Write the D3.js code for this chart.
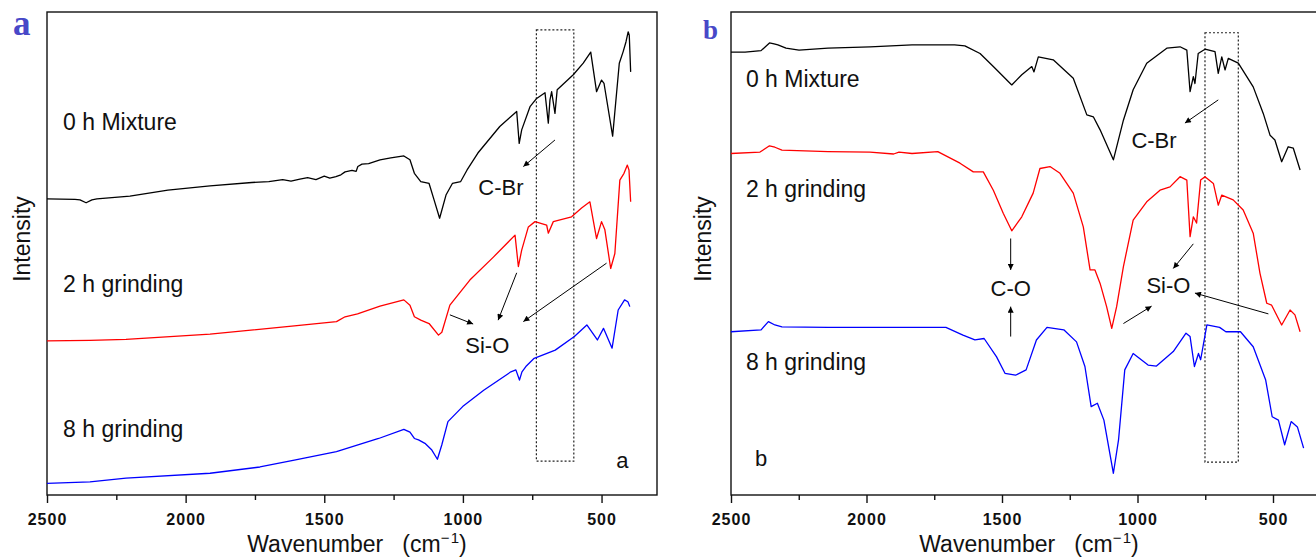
<!DOCTYPE html>
<html>
<head>
<meta charset="utf-8">
<script src="https://cdn.jsdelivr.net/npm/d3@7"></script>
<style>
  body { margin: 0; background: #fff; }
  svg { display: block; }
  text { font-family: "Liberation Sans", Arial, sans-serif; }
</style>
</head>
<body>
<svg id="chart" width="1316" height="558"></svg>
<script>
// FTIR spectra, wavenumber (cm-1) vs intensity (a.u., 0-100)
var xDomain = [2500, 300];
var tickMajor = [2500, 2000, 1500, 1000, 500];
var tickMinor = [2250, 1750, 1250, 750];
var seriesNames = ["0 h Mixture", "2 h grinding", "8 h grinding"];
var seriesColors = ["#000000", "#ff0000", "#0000ff"];

// panel a
var aMixture = [[2500,61.3],[2399,61.2],[2381,61.1],[2359,60.5],[2338,61.1],[2320,61.3],[2201,61.9],[2064,63.1],[1912,64.0],[1761,64.7],[1700,64.9],[1650,65.3],[1620,65.0],[1588,65.4],[1560,65.7],[1530,65.3],[1500,66.0],[1480,65.6],[1458,65.9],[1440,66.3],[1425,66.9],[1400,67.2],[1385,67.0],[1379,68.0],[1364,68.5],[1340,68.6],[1299,69.4],[1260,69.8],[1213,70.2],[1191,69.4],[1175,66.6],[1152,64.9],[1122,64.5],[1104,61.1],[1084,57.3],[1061,62.1],[1038,64.5],[1008,64.9],[985,67.3],[946,70.8],[867,76.3],[806,79.4],[797,72.8],[788,75.6],[758,80.4],[734,82.1],[704,83.3],[699,80.7],[692,77.0],[686,81.8],[680,83.5],[668,79.0],[660,83.9],[602,87.0],[566,89.4],[539,91.7],[518,83.5],[500,85.9],[491,85.2],[460,74.3],[436,89.4],[422,91.8],[412,93.8],[404,95.9],[400,95.2],[395,87.6]];
var aGrind2 = [[2500,31.9],[2345,32.0],[2215,32.2],[1912,33.3],[1608,35.0],[1456,35.9],[1425,36.9],[1380,37.5],[1299,39.1],[1213,40.4],[1191,39.3],[1175,36.9],[1152,36.2],[1122,35.5],[1088,33.1],[1076,33.7],[1047,39.3],[975,44.5],[891,49.2],[812,53.8],[800,47.3],[788,50.7],[764,55.5],[740,56.6],[698,55.9],[692,54.2],[674,56.6],[608,57.6],[572,59.4],[542,60.7],[518,53.1],[500,56.6],[488,54.9],[467,46.9],[452,50.0],[434,65.2],[419,66.6],[407,68.3],[401,67.3],[395,60.7]];
var aGrind8 = [[2500,2.4],[2345,2.7],[2215,3.5],[1912,4.5],[1732,5.8],[1608,7.2],[1456,9.0],[1304,11.7],[1213,13.6],[1191,13.0],[1175,11.7],[1160,11.4],[1137,10.7],[1112,9.3],[1092,7.4],[1076,10.4],[1054,15.2],[1001,18.3],[925,21.7],[827,25.5],[809,25.9],[796,23.8],[787,25.5],[773,26.6],[743,28.3],[667,30.0],[598,32.8],[553,35.2],[515,32.1],[493,34.5],[462,30.4],[440,38.3],[417,40.4],[405,40.0],[398,39.0]];

// panel b
var bMixture = [[2500,91.7],[2448,91.7],[2389,92.0],[2358,93.6],[2341,93.4],[2327,93.2],[2297,92.5],[2249,92.1],[2142,92.5],[1987,92.8],[1832,93.2],[1675,93.2],[1637,93.0],[1581,91.4],[1532,88.7],[1464,84.9],[1427,87.0],[1390,88.7],[1382,87.6],[1366,90.7],[1311,90.1],[1237,86.3],[1187,78.7],[1163,78.3],[1138,75.6],[1089,69.4],[1052,77.6],[1016,83.9],[966,89.4],[892,92.5],[843,92.8],[818,92.1],[806,83.5],[794,86.6],[788,85.2],[776,91.4],[751,92.3],[714,91.8],[702,87.3],[689,90.7],[677,88.0],[665,90.4],[628,89.4],[573,84.5],[536,79.0],[511,74.5],[493,73.5],[468,69.0],[444,72.1],[425,71.8],[400,67.3]];
var bGrind2 = [[2500,70.7],[2393,71.0],[2358,72.3],[2338,72.0],[2312,71.4],[2142,71.1],[1987,71.0],[1900,70.6],[1880,71.0],[1832,70.7],[1737,71.1],[1655,68.7],[1606,66.9],[1569,66.9],[1532,63.1],[1495,58.3],[1464,54.7],[1427,57.6],[1397,61.1],[1385,62.5],[1360,67.6],[1323,68.0],[1286,66.6],[1237,62.5],[1200,55.5],[1175,46.6],[1157,46.6],[1138,43.8],[1114,39.0],[1095,34.5],[1077,39.0],[1052,47.3],[1016,56.9],[966,60.7],[917,63.1],[880,63.8],[843,65.9],[818,65.2],[806,53.5],[794,57.6],[782,56.3],[767,65.2],[751,65.9],[720,64.5],[702,60.0],[689,62.1],[647,61.1],[610,59.0],[573,54.2],[548,45.9],[523,39.7],[505,39.3],[468,35.2],[437,38.3],[419,37.3],[400,33.8]];
var bGrind8 = [[2500,33.8],[2389,34.2],[2362,35.9],[2338,35.2],[2312,34.8],[2142,34.7],[1987,34.7],[1832,34.7],[1707,34.7],[1644,33.1],[1600,32.1],[1566,32.4],[1520,28.6],[1489,25.2],[1450,24.8],[1411,25.9],[1373,32.1],[1334,34.7],[1272,34.2],[1225,31.7],[1194,26.6],[1171,18.3],[1148,19.0],[1124,15.5],[1089,4.5],[1070,11.4],[1047,25.9],[1016,29.3],[961,26.9],[930,26.7],[868,29.7],[821,33.5],[806,32.8],[790,26.6],[775,29.3],[767,28.0],[744,35.2],[697,34.7],[674,33.8],[620,33.8],[573,30.7],[527,23.8],[503,16.2],[480,15.5],[457,10.4],[433,15.2],[410,14.1],[387,9.7]];

// labels: [text, wavenumber, intensity]
var aLabels = [["0 h Mixture",2442,75.6],["2 h grinding",2442,42.1],["8 h grinding",2442,12.1]];
var bLabels = [["0 h Mixture",2445,84.4],["2 h grinding",2445,61.8],["8 h grinding",2445,25.9]];
var aNotes = [["C-Br",863,62.1],["Si-O",912,29.4],["a",425,5.5]];
var bNotes = [["C-Br",939,71.8],["C-O",1468,41.1],["Si-O",886,41.8],["b",2389,6.0]];
// arrows: [from w, from v, to w, to v]
var aArrows = [[668,73.5,782,68.0],[1047,37.3,963,35.4],[806,46.0,873,36.2],[482,48.0,782,35.9]];
var bArrows = [[702,81.8,825,77.0],[1468,53.1,1468,46.6],[1468,32.8,1468,39.0],[794,52.0,868,46.9],[517,37.5,788,41.8],[1052,35.5,948,39.1]];
// dotted boxes: [w1, w2, vTop, vBottom]
var aBox = [735, 600, 96.3, 7.0];
var bBox = [751, 628, 95.7, 6.8];

var svg = d3.select("#chart");

svg.append("defs").append("marker")
  .attr("id", "head")
  .attr("viewBox", "0 0 10 10")
  .attr("refX", 10).attr("refY", 5)
  .attr("markerWidth", 7).attr("markerHeight", 6)
  .attr("markerUnits", "userSpaceOnUse")
  .attr("orient", "auto")
  .append("path").attr("d", "M0,0L10,5L0,10Z").attr("fill", "#000");

var panels = [
  { range: [47, 657], frameRight: 657, series: [aMixture, aGrind2, aGrind8], labels: aLabels,
    notes: aNotes, arrows: aArrows, box: aBox, letter: "a", letterX: 13, letterY: 35, letterSize: 35,
    yTitleX: 30, xTitleX: 357 },
  { range: [731, 1327.2], frameRight: 1340, series: [bMixture, bGrind2, bGrind8], labels: bLabels,
    notes: bNotes, arrows: bArrows, box: bBox, letter: "b", letterX: 703, letterY: 39, letterSize: 27,
    yTitleX: 711, xTitleX: 1029 }
];

var plotTop = 12, plotBottom = 495;
var y = d3.scaleLinear().domain([0, 100]).range([plotBottom, plotTop]);

panels.forEach(function(p) {
  var x = d3.scaleLinear().domain(xDomain).range(p.range);
  var g = svg.append("g");

  // frame
  g.append("rect")
    .attr("x", x(2500)).attr("y", plotTop)
    .attr("width", p.frameRight - x(2500)).attr("height", plotBottom - plotTop)
    .attr("fill", "none").attr("stroke", "#111").attr("stroke-width", 1.4);

  // ticks
  var ax = g.append("g").attr("transform", "translate(0," + plotBottom + ")")
    .call(d3.axisBottom(x).tickValues(tickMajor).tickSize(8).tickSizeOuter(0).tickFormat(d3.format("d")));
  ax.select(".domain").remove();
  ax.selectAll("line").attr("stroke", "#111").attr("stroke-width", 1.4);
  ax.selectAll("text")
    .attr("y", 30).attr("dy", 0)
    .style("font-size", "16px").style("font-weight", "bold")
    .style("letter-spacing", "1px").attr("fill", "#111");

  var mx = g.append("g").attr("transform", "translate(0," + plotBottom + ")")
    .call(d3.axisBottom(x).tickValues(tickMinor).tickSize(5).tickSizeOuter(0).tickFormat(""));
  mx.select(".domain").remove();
  mx.selectAll("line").attr("stroke", "#111").attr("stroke-width", 1.4);

  // dotted box
  g.append("rect")
    .attr("x", x(p.box[0])).attr("y", y(p.box[2]))
    .attr("width", x(p.box[1]) - x(p.box[0])).attr("height", y(p.box[3]) - y(p.box[2]))
    .attr("fill", "none").attr("stroke", "#222").attr("stroke-width", 1.2)
    .attr("stroke-dasharray", "2,2");

  // spectra
  var line = d3.line()
    .x(function(d) { return x(d[0]); })
    .y(function(d) { return y(d[1]); });

  p.series.forEach(function(s, i) {
    g.append("path")
      .datum(s)
      .attr("d", line)
      .attr("fill", "none")
      .attr("stroke", seriesColors[i])
      .attr("stroke-width", 1.3)
      .attr("stroke-linejoin", "round");
  });

  // series labels
  p.labels.forEach(function(l) {
    g.append("text")
      .attr("x", x(l[1])).attr("y", y(l[2]))
      .style("font-size", "23px").attr("fill", "#111")
      .text(l[0]);
  });

  // annotations
  p.notes.forEach(function(n) {
    g.append("text")
      .attr("x", x(n[1])).attr("y", y(n[2]))
      .attr("text-anchor", "middle")
      .style("font-size", "22px").attr("fill", "#111")
      .text(n[0]);
  });

  p.arrows.forEach(function(a) {
    g.append("line")
      .attr("x1", x(a[0])).attr("y1", y(a[1]))
      .attr("x2", x(a[2])).attr("y2", y(a[3]))
      .attr("stroke", "#000").attr("stroke-width", 1)
      .attr("marker-end", "url(#head)");
  });

  // panel letter
  svg.append("text")
    .attr("x", p.letterX).attr("y", p.letterY)
    .style("font-family", "'Liberation Serif', 'Times New Roman', serif")
    .style("font-weight", "bold")
    .style("font-size", p.letterSize + "px")
    .attr("fill", "#4848c8")
    .text(p.letter);

  // axis titles
  svg.append("text")
    .attr("transform", "translate(" + p.yTitleX + "," + 239 + ") rotate(-90)")
    .attr("text-anchor", "middle")
    .style("font-size", "23px").attr("fill", "#111")
    .text("Intensity");

  var xt = svg.append("text")
    .attr("x", p.xTitleX).attr("y", 552)
    .attr("text-anchor", "middle")
    .style("font-size", "23px").attr("fill", "#111");
  xt.append("tspan").text("Wavenumber\u00a0\u00a0\u00a0(cm");
  xt.append("tspan").attr("dy", -9).style("font-size", "15px").text("\u2212\u200a1");
  xt.append("tspan").attr("dy", 9).text(")");
});
</script>
</body>
</html>
